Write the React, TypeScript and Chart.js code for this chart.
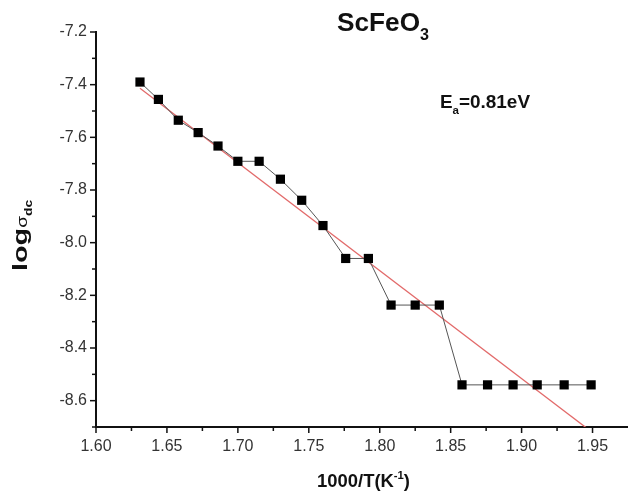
import React, { useEffect, useRef } from "react";
import { Chart, registerables } from "chart.js";

Chart.register(...registerables);

// 1000/T (K^-1)
const xValues = [
  1.631, 1.644, 1.658, 1.672, 1.686, 1.7, 1.715, 1.73, 1.745, 1.76, 1.776,
  1.792, 1.808, 1.825, 1.842, 1.858, 1.876, 1.894, 1.911, 1.93, 1.949,
];
// log sigma_dc
const logSigma = [
  -7.39, -7.456, -7.535, -7.582, -7.633, -7.691, -7.691, -7.759, -7.839,
  -7.935, -8.06, -8.06, -8.237, -8.237, -8.237, -8.54, -8.54, -8.54, -8.54,
  -8.54, -8.54,
];
// linear fit (Ea = 0.81 eV)
const fitX = [1.631, 1.98];
const fitY = [-7.414, -8.844];

// axis ticks (major ones carry labels)
const xTickValues = [
  1.6, 1.625, 1.65, 1.675, 1.7, 1.725, 1.75, 1.775, 1.8, 1.825, 1.85, 1.875,
  1.9, 1.925, 1.95,
];
const xTickLabels = ["1.60", "1.65", "1.70", "1.75", "1.80", "1.85", "1.90", "1.95"];
const yTickValues = [
  -8.7, -8.6, -8.5, -8.4, -8.3, -8.2, -8.1, -8.0, -7.9, -7.8, -7.7, -7.6, -7.5,
  -7.4, -7.3, -7.2,
];
const yTickLabels = ["-8.6", "-8.4", "-8.2", "-8.0", "-7.8", "-7.6", "-7.4", "-7.2"];

const titleMain = "ScFeO";
const titleSub = "3";
const eaMain = "E";
const eaSub = "a";
const eaRest = "=0.81eV";
const xLabelMain = "1000/T(K";
const xLabelSup = "-1";
const xLabelEnd = ")";
const yLabelMain = "log";
const yLabelSigma = "σ";
const yLabelSub = "dc";

const FONT = "'Liberation Sans', Arial, Helvetica, sans-serif";

type Run = { text: string; font: string; dy: number };

function drawRuns(
  ctx: CanvasRenderingContext2D,
  x: number,
  y: number,
  runs: Run[],
  targetWidth: number
) {
  let total = 0;
  for (const r of runs) {
    ctx.font = r.font;
    total += ctx.measureText(r.text).width;
  }
  const sx = targetWidth / total;
  ctx.save();
  ctx.translate(x, y);
  ctx.scale(sx, 1);
  let cx = 0;
  for (const r of runs) {
    ctx.font = r.font;
    ctx.fillText(r.text, cx, r.dy);
    cx += ctx.measureText(r.text).width;
  }
  ctx.restore();
}

function labelFor(v: number, labels: string[], digits: number) {
  const s = v.toFixed(digits);
  return labels.includes(s) ? s : "";
}

const annotPlugin = {
  id: "annot",
  afterDraw(chart: any) {
    const ctx: CanvasRenderingContext2D = chart.ctx;
    const xs = chart.scales.x;
    const ys = chart.scales.y;
    ctx.save();
    // tick marks (major + minor), outward
    ctx.strokeStyle = "#111";
    ctx.lineWidth = 1.5;
    xTickValues.forEach((v) => {
      const px = xs.getPixelForValue(v);
      const len = labelFor(v, xTickLabels, 2) ? 6 : 4;
      ctx.beginPath();
      ctx.moveTo(px, xs.top);
      ctx.lineTo(px, xs.top + len);
      ctx.stroke();
    });
    yTickValues.forEach((v) => {
      const py = ys.getPixelForValue(v);
      const len = labelFor(v, yTickLabels, 1) ? 6 : 4;
      ctx.beginPath();
      ctx.moveTo(ys.right, py);
      ctx.lineTo(ys.right - len, py);
      ctx.stroke();
    });

    ctx.fillStyle = "#111";
    ctx.textBaseline = "alphabetic";
    ctx.textAlign = "left";
    // title
    drawRuns(
      ctx,
      337,
      31,
      [
        { text: titleMain, font: `bold 26px ${FONT}`, dy: 0 },
        { text: titleSub, font: `bold 16px ${FONT}`, dy: 9 },
      ],
      92
    );
    // activation energy
    drawRuns(
      ctx,
      440,
      108,
      [
        { text: eaMain, font: `bold 18px ${FONT}`, dy: 0 },
        { text: eaSub, font: `bold 11px ${FONT}`, dy: 6 },
        { text: eaRest, font: `bold 18px ${FONT}`, dy: 0 },
      ],
      90
    );
    // x axis title
    drawRuns(
      ctx,
      317,
      487,
      [
        { text: xLabelMain, font: `bold 18px ${FONT}`, dy: 0 },
        { text: xLabelSup, font: `bold 11px ${FONT}`, dy: -8 },
        { text: xLabelEnd, font: `bold 18px ${FONT}`, dy: 0 },
      ],
      93
    );
    // y axis title (rotated)
    ctx.save();
    ctx.translate(27, 271);
    ctx.rotate(-Math.PI / 2);
    drawRuns(
      ctx,
      0,
      0,
      [
        { text: yLabelMain, font: `bold 21px ${FONT}`, dy: 0 },
        { text: yLabelSigma, font: `14px ${FONT}`, dy: 0 },
        { text: yLabelSub, font: `bold 10px ${FONT}`, dy: 5 },
      ],
      71
    );
    ctx.restore();
    ctx.restore();
  },
};

export default function App() {
  const ref = useRef<HTMLCanvasElement | null>(null);
  useEffect(() => {
    if (!ref.current) return;
    const chart = new Chart(ref.current, {
      type: "scatter",
      data: {
        datasets: [
          {
            label: "data",
            data: xValues.map((x, i) => ({ x, y: logSigma[i] })),
            showLine: true,
            borderColor: "#555",
            borderWidth: 1,
            pointStyle: "rect",
            pointRadius: 6.5,
            pointBackgroundColor: "#000",
            pointBorderColor: "#000",
            pointBorderWidth: 0,
          },
          {
            label: "fit",
            data: fitX.map((x, i) => ({ x, y: fitY[i] })),
            showLine: true,
            borderColor: "#e26a6a",
            borderWidth: 1.3,
            pointRadius: 0,
          },
        ],
      },
      options: {
        responsive: false,
        animation: false,
        layout: {
          autoPadding: false,
          padding: { top: 32, right: 0, left: 0, bottom: 0 },
        },
        plugins: {
          legend: { display: false },
          tooltip: { enabled: false },
        },
        scales: {
          x: {
            type: "linear",
            min: 1.6,
            max: 1.975,
            afterFit: (s: any) => {
              s.height = 67;
              s.paddingRight = 0;
              s.paddingLeft = 0;
            },
            afterBuildTicks: (s: any) => {
              s.ticks = xTickValues.map((value) => ({ value }));
            },
            ticks: {
              autoSkip: false,
              maxRotation: 0,
              padding: 4,
              color: "#333",
              font: { family: FONT, size: 16 },
              callback: (v: any) => labelFor(Number(v), xTickLabels, 2),
            },
            grid: { display: false, drawTicks: true, tickLength: 6 },
            border: { display: true, color: "#111", width: 2 },
          },
          y: {
            type: "linear",
            min: -8.7,
            max: -7.2,
            afterFit: (s: any) => {
              s.width = 96;
              s.paddingTop = 0;
              s.paddingBottom = 0;
            },
            afterBuildTicks: (s: any) => {
              s.ticks = yTickValues.map((value) => ({ value }));
            },
            ticks: {
              autoSkip: false,
              padding: 3,
              color: "#333",
              font: { family: FONT, size: 16 },
              callback: (v: any) => labelFor(Number(v), yTickLabels, 1),
            },
            grid: { display: false, drawTicks: true, tickLength: 6 },
            border: { display: true, color: "#111", width: 2 },
          },
        },
      },
      plugins: [annotPlugin],
    });
    return () => chart.destroy();
  }, []);
  return (
    <div
      style={{
        position: "fixed",
        left: 0,
        top: 0,
        width: 628,
        height: 494,
        background: "#fff",
      }}
    >
      <canvas ref={ref} width={628} height={494} />
    </div>
  );
}
